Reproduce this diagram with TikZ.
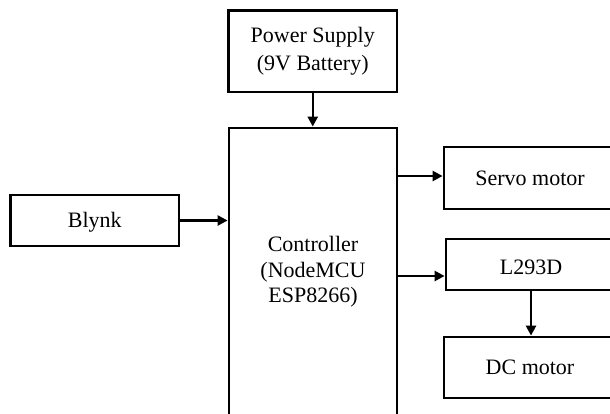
\documentclass[tikz,border=0pt]{standalone}
\usepackage{fontspec}
\setmainfont{Liberation Serif}
\usetikzlibrary{arrows.meta}
\begin{document}
\begin{tikzpicture}[x=1pt,y=-1pt,
  blockbox/.style={draw=black,line width=2.8pt,rectangle,inner sep=0pt,anchor=center,
    font=\fontsize{22}{26}\selectfont,align=center},
  conn/.style={line width=2.4pt,-{Triangle[length=10pt,width=10pt]}}]
\useasboundingbox (0,0) rectangle (610,413);
\clip (0,0) rectangle (610,413);
\fill[white] (0,0) rectangle (610,413);
\node[blockbox,minimum width=168.5pt,minimum height=81.5pt,
  font=\fontsize{22}{27.5}\selectfont] (ps) at (312.75,51.25) {Power Supply\\(9V Battery)};
\node[blockbox,minimum width=168pt,minimum height=288pt,
  font=\fontsize{22}{25.5}\selectfont] (ctrl) at (313,272) {Controller\\(NodeMCU\\ESP8266)};
\node[blockbox,minimum width=168.3pt,minimum height=51pt] (blynk) at (94.85,220.5) {\rule{0pt}{18pt}Blynk};
\node[blockbox,minimum width=172pt,minimum height=62pt] (servo) at (530,178) {Servo motor};
\node[blockbox,minimum width=170pt,minimum height=51pt] (l293) at (531,264.5) {\rule{0pt}{21pt}L293D};
\node[blockbox,minimum width=172pt,minimum height=61pt] (dc) at (530,367.5) {DC motor};
\draw[conn] (ps.south) -- (ps.south |- ctrl.north);
\draw[conn] (blynk.east) -- (blynk.east -| ctrl.west);
\draw[conn] ([yshift=2pt]servo.west -| ctrl.east) -- ([yshift=2pt]servo.west);
\draw[conn] ([yshift=-11.5pt]l293.west -| ctrl.east) -- ([yshift=-11.5pt]l293.west);
\draw[conn] (l293.south) -- (l293.south |- dc.north);
\end{tikzpicture}
\end{document}
